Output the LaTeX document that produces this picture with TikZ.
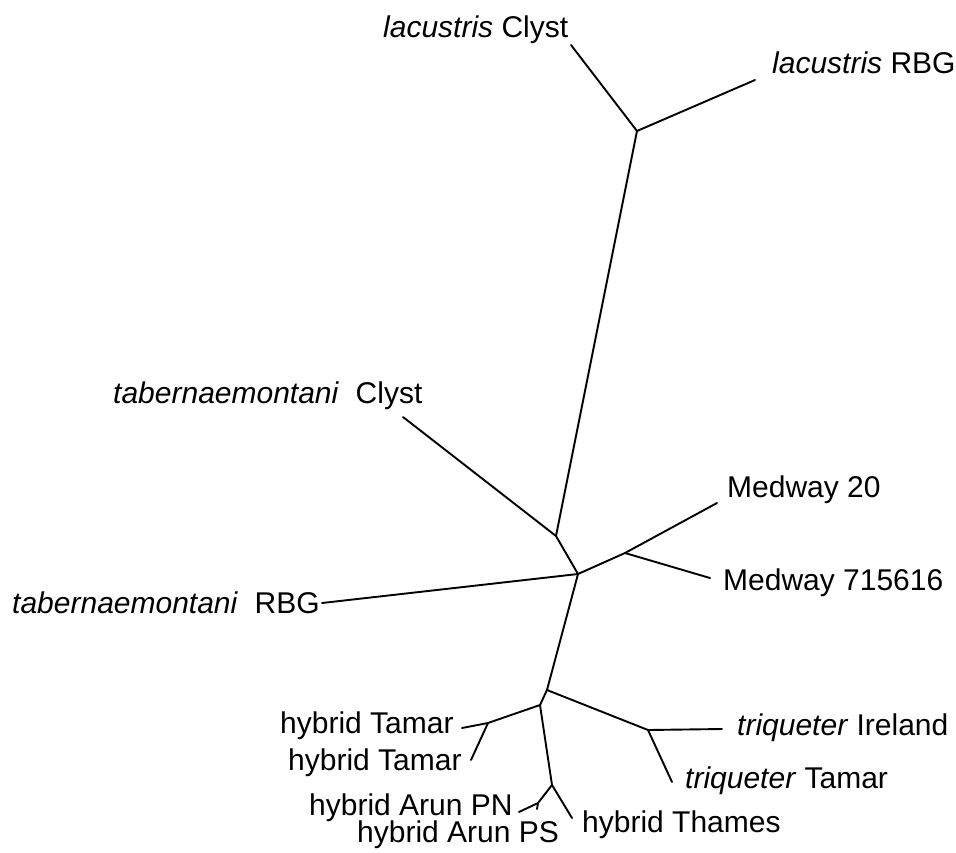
\documentclass[tikz,border=0pt]{standalone}
\usepackage{fontspec}
\setmainfont{Liberation Sans}
\usepackage{tikz}

\begin{document}
\begin{tikzpicture}[
        x=1pt, y=-1pt,
        branch/.style={line width=1.9pt, line cap=round, line join=round},
        taxon/.style={inner sep=0pt, anchor=base west,
                      font=\fontsize{30}{36}\selectfont}
    ]
    \useasboundingbox (0,0) rectangle (956,852);

    % inner joints
    \coordinate (root) at (578,574);
    \coordinate (upper) at (556,536);
    \coordinate (lacj) at (637,131);
    \coordinate (medj) at (625,553);
    \coordinate (lower) at (547,690);
    \coordinate (triqj) at (648,730);
    \coordinate (hybj) at (540,705);
    \coordinate (tamj) at (488,723);
    \coordinate (arthj) at (552,785);
    \coordinate (arunj) at (538,803);

    % tips
    \coordinate (lacClyst) at (571,45);
    \coordinate (lacRBG) at (755,80);
    \coordinate (tabClyst) at (403,417);
    \coordinate (tabRBG) at (322,603);
    \coordinate (med20) at (717,503);
    \coordinate (med71) at (710,578);
    \coordinate (triIre) at (722,729);
    \coordinate (triTam) at (672,782);
    \coordinate (hybTamA) at (462,728);
    \coordinate (hybTamB) at (471,760);
    \coordinate (hybThames) at (572,818);
    \coordinate (hybPN) at (519,812);
    \coordinate (hybPS) at (537,809);

    % branches
    \draw[branch] (tabRBG) -- (root) -- (medj) -- (med20);
    \draw[branch] (medj) -- (med71);
    \draw[branch] (root) -- (upper) -- (tabClyst);
    \draw[branch] (upper) -- (lacj) -- (lacClyst);
    \draw[branch] (lacj) -- (lacRBG);
    \draw[branch] (root) -- (lower) -- (triqj) -- (triIre);
    \draw[branch] (triqj) -- (triTam);
    \draw[branch] (lower) -- (hybj) -- (tamj) -- (hybTamA);
    \draw[branch] (tamj) -- (hybTamB);
    \draw[branch] (hybj) -- (arthj) -- (hybThames);
    \draw[branch] (arthj) -- (arunj) -- (hybPN);
    \draw[branch] (arunj) -- (hybPS);

    % labels
    \node[taxon] (lblLacClyst) at (383,37) {\textit{lacustris} Clyst};
    \node[taxon] (lblLacRBG) at (772,73) {\textit{lacustris} RBG};
    \node[taxon] (lblTabClyst) at (113,403) {\textit{tabernaemontani}~ Clyst};
    \node[taxon] (lblTabRBG) at (12,613) {\textit{tabernaemontani}~ RBG};
    \node[taxon] (lblMed20) at (727,497) {Medway 20};
    \node[taxon] (lblMed71) at (723,590) {Medway 715616};
    \node[taxon] (lblTriIre) at (737,735) {\textit{triqueter} Ireland};
    \node[taxon] (lblTriTam) at (685,788) {\textit{triqueter} Tamar};
    \node[taxon] (lblHybTamA) at (280,733) {hybrid Tamar};
    \node[taxon] (lblHybTamB) at (288,770) {hybrid Tamar};
    \node[taxon] (lblHybPN) at (309,815) {hybrid Arun PN};
    \node[taxon] (lblHybPS) at (357,842) {hybrid Arun PS};
    \node[taxon] (lblHybThames) at (582,832) {hybrid Thames};
\end{tikzpicture}
\end{document}
